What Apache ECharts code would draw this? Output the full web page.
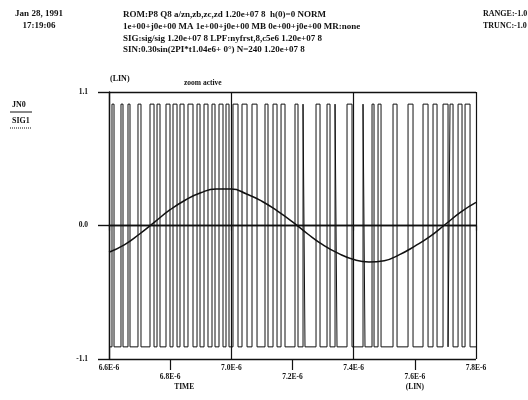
<!DOCTYPE html>
<html>
<head>
<meta charset="utf-8">
<script src="https://cdn.jsdelivr.net/npm/echarts@6/dist/echarts.min.js"></script>
<style>
html, body { margin: 0; padding: 0; background: #fff; }
#chart { width: 528px; height: 400px; }
</style>
</head>
<body>
<div id="chart"></div>
<script>
// Time axis (microseconds) and amplitude axis
const xLowRow = [6.6, 7.0, 7.4, 7.8];
const xHighRow = [6.8, 7.2, 7.6];
const yTicks = [-1.1, 0.0, 1.1];

// JN0: quantiser output, intervals where the output sits at +1 (otherwise -1)
const jnHighStart = [6.6098, 6.6392, 6.6621, 6.6948, 6.7341, 6.7570, 6.7864, 6.8093, 6.8322, 6.8583,
  6.8878, 6.9107, 6.9368, 6.9597, 6.9826, 7.0055, 7.0349, 7.0676, 7.1101, 7.1363, 7.1625, 7.2082,
  7.2344, 7.2769, 7.3129, 7.3391, 7.3783, 7.4306, 7.4600, 7.4797, 7.5287, 7.5778, 7.6268, 7.6595,
  7.6922, 7.7151, 7.7413, 7.7642];
const jnHighEnd = [6.6164, 6.6458, 6.6687, 6.7046, 6.7472, 6.7668, 6.7995, 6.8224, 6.8453, 6.8747,
  6.8976, 6.9237, 6.9466, 6.9728, 6.9924, 7.0218, 7.0513, 7.0840, 7.1199, 7.1494, 7.1755, 7.2180,
  7.2409, 7.2900, 7.3227, 7.3456, 7.3946, 7.4371, 7.4666, 7.4895, 7.5418, 7.5941, 7.6432, 7.6726,
  7.7086, 7.7249, 7.7543, 7.7805];
const jnHigh = 1.0;
const jnLow = -1.0;

// SIG1: input sine, sampled along the time axis
const sigTime = [6.60, 6.65, 6.70, 6.75, 6.80, 6.85, 6.90, 6.95, 7.00, 7.05, 7.10, 7.15, 7.20,
  7.25, 7.30, 7.35, 7.40, 7.45, 7.50, 7.55, 7.60, 7.65, 7.70, 7.75, 7.80];
const sigValue = [-0.22, -0.16, -0.07, 0.03, 0.13, 0.21, 0.27, 0.30, 0.30, 0.26, 0.20, 0.12, 0.03,
  -0.07, -0.16, -0.23, -0.28, -0.30, -0.29, -0.24, -0.17, -0.09, 0.01, 0.11, 0.19];

// Header block and legend names
const headerDate = ['Jan 28, 1991', '17:19:06'];
const headerInfo = [
  'ROM:P8 Q8 a/zn,zb,zc,zd 1.20e+07 8  h(0)=0 NORM',
  '1e+00+j0e+00 MA 1e+00+j0e+00 MB 0e+00+j0e+00 MR:none',
  'SIG:sig/sig 1.20e+07 8 LPF:nyfrst,8,c5e6 1.20e+07 8',
  'SIN:0.30sin(2PI*t1.04e6+ 0\u00b0) N=240 1.20e+07 8'
];
const headerRange = ['RANGE:-1.0', 'TRUNC:-1.0'];
const seriesNames = ['JN0', 'SIG1'];

const FONT = 'Liberation Serif';
const ink = '#111';

// Build the step trace of JN0 from its high intervals
const jnData = [[6.6, jnLow]];
for (let i = 0; i < jnHighStart.length; i++) {
  jnData.push([jnHighStart[i], jnLow], [jnHighStart[i], jnHigh],
              [jnHighEnd[i], jnHigh], [jnHighEnd[i], jnLow]);
}
jnData.push([7.8, jnLow]);

const sigData = sigTime.map((t, i) => [t, sigValue[i]]);

const xFmt = v => v.toFixed(1) + 'E-6';
const baseText = { fontFamily: FONT, fontWeight: 'bold', fontSize: 7.5, color: ink };
const headText = Object.assign({}, baseText, { fontSize: 9, lineHeight: 11.7 });

// Key: names with a short rule underneath, solid for JN0 and dotted for SIG1
const keyGraphics = [];
seriesNames.forEach((name, i) => {
  const y = 105 + i * 16;
  keyGraphics.push({
    type: 'text', left: 12, top: y - 4,
    style: { text: name, font: 'bold 8px "Liberation Serif"', fill: ink }
  });
  keyGraphics.push({
    type: 'line', shape: { x1: 10, y1: y + 7, x2: 32, y2: y + 7 },
    style: { stroke: ink, lineWidth: 1, lineDash: i === 0 ? null : [1, 1] }
  });
});

const chart = echarts.init(document.getElementById('chart'), null, { renderer: 'canvas' });
chart.setOption({
  animation: false,
  backgroundColor: '#fff',
  title: [
    { text: headerDate.join('\n'), left: 34, top: 3, textAlign: 'center',
      textStyle: Object.assign({}, headText, { align: 'center' }) },
    { text: headerInfo.join('\n'), left: 118, top: 4, textStyle: headText },
    { text: headerRange.join('\n'), left: 478, top: 3,
      textStyle: Object.assign({}, headText, { fontSize: 8 }) },
    { text: 'zoom active', left: 179, top: 74, textStyle: Object.assign({}, baseText, { fontSize: 7.5 }) }
  ],
  graphic: keyGraphics,
  grid: { left: 109, right: 52, top: 92, bottom: 41 },
  xAxis: [
    {
      type: 'value', min: 6.6, max: 7.8, interval: 0.2, position: 'bottom',
      axisLine: { show: true, lineStyle: { color: ink, width: 1.4 } },
      axisTick: { show: true, customValues: xLowRow, length: 5, lineStyle: { color: ink, width: 1.2 } },
      axisLabel: { customValues: xLowRow, margin: 5, formatter: xFmt, textStyle: baseText },
      splitLine: { show: true, lineStyle: { color: ink, width: 1.2 } }
    },
    {
      type: 'value', min: 6.6, max: 7.8, interval: 0.2, position: 'bottom', gridIndex: 0,
      axisLine: { show: false },
      axisTick: { show: true, customValues: xHighRow, length: 11, lineStyle: { color: ink, width: 1.2 } },
      axisLabel: {
        customValues: xHighRow, margin: 13, lineHeight: 10,
        formatter: v => {
          const s = '{v|' + xFmt(v) + '}';
          if (Math.abs(v - 6.8) < 1e-6) return s + '\n{t|TIME}';
          if (Math.abs(v - 7.6) < 1e-6) return s + '\n{v|(LIN)}';
          return s;
        },
        rich: {
          v: Object.assign({}, baseText, { lineHeight: 10 }),
          t: Object.assign({}, baseText, { lineHeight: 10, padding: [0, 0, 0, 28] })
        },
        textStyle: baseText
      },
      splitLine: { show: false }
    }
  ],
  yAxis: {
    type: 'value', min: -1.1, max: 1.1, interval: 1.1,
    name: '(LIN)', nameLocation: 'end', nameGap: 9,
    nameTextStyle: Object.assign({}, baseText, { fontSize: 8, align: 'left', padding: [0, 0, 0, 1] }),
    axisLine: { show: true, lineStyle: { color: ink, width: 1.4 } },
    axisTick: { show: true, length: 11, lineStyle: { color: ink, width: 1.4 } },
    axisLabel: { margin: 21, formatter: v => v.toFixed(1), textStyle: baseText },
    splitLine: { show: true, lineStyle: { color: ink, width: 1.4 } }
  },
  series: [
    {
      name: seriesNames[0], type: 'line', data: jnData, xAxisIndex: 0,
      symbol: 'none', lineStyle: { color: ink, width: 1 }, itemStyle: { color: ink }
    },
    {
      name: seriesNames[1], type: 'line', data: sigData, xAxisIndex: 0, smooth: true,
      symbol: 'none', lineStyle: { color: ink, width: 1.5 }, itemStyle: { color: ink }
    }
  ]
});
</script>
</body>
</html>
